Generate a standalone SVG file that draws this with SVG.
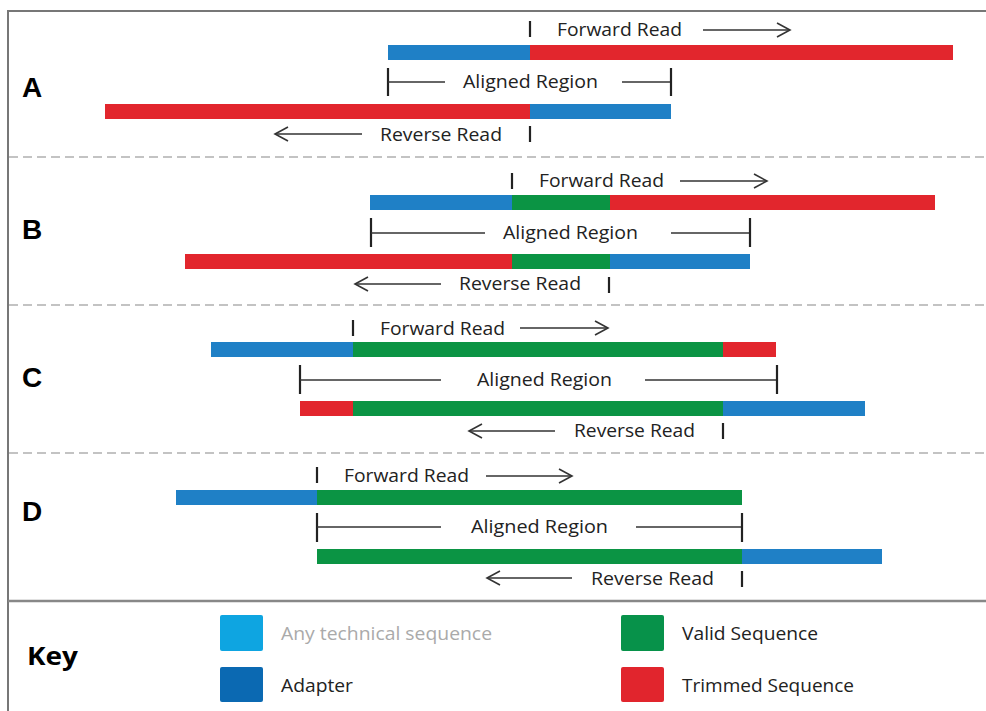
<svg xmlns="http://www.w3.org/2000/svg" width="986" height="711" viewBox="0 0 986 711">
<style>
.lbl{font-family:"Open Sans","DejaVu Sans",sans-serif;font-size:18px;fill:#222}
.let{font-family:"Liberation Sans",Arial,sans-serif;font-size:28px;font-weight:bold;fill:#000}
.key{font-family:"Open Sans","Liberation Sans",sans-serif;font-size:18px;fill:#222}
.ln{stroke:#333;stroke-width:1.6;fill:none}
.tk{stroke:#222;stroke-width:2.2;fill:none}
.dash{stroke:#b0b0b0;stroke-width:1.6;stroke-dasharray:9 5;fill:none}
.b{fill:#1f80c6}.r{fill:#e2262d}.g{fill:#0b9444}
</style>
<rect width="986" height="711" fill="#fff"/>
<g id="frame">
<path d="M986 11 H8 V711" stroke="#777" stroke-width="2" fill="none"/>
<line class="dash" x1="9" y1="157" x2="986" y2="157"/>
<line class="dash" x1="9" y1="305" x2="986" y2="305"/>
<line class="dash" x1="9" y1="453" x2="986" y2="453"/>
<line x1="8" y1="601" x2="986" y2="601" stroke="#888" stroke-width="2.5"/>
</g>

<g id="panelA">
<text class="let" x="22" y="97">A</text>
<line class="tk" x1="530" y1="21" x2="530" y2="37"/>
<text class="lbl" x="557" y="36" textLength="125" lengthAdjust="spacingAndGlyphs">Forward Read</text>
<line class="ln" x1="703" y1="30" x2="790" y2="30"/><polyline class="ln" points="777,23 790,30 777,37"/>
<rect class="b" x="388" y="45" width="142" height="15"/><rect class="r" x="530" y="45" width="423" height="15"/>
<line class="tk" x1="388" y1="68" x2="388" y2="96"/><line class="ln" x1="388" y1="82" x2="445" y2="82"/>
<text class="lbl" x="463" y="88" textLength="135" lengthAdjust="spacingAndGlyphs">Aligned Region</text>
<line class="ln" x1="622" y1="82" x2="671" y2="82"/><line class="tk" x1="671" y1="68" x2="671" y2="96"/>
<rect class="r" x="105" y="104" width="425" height="15"/><rect class="b" x="530" y="104" width="141" height="15"/>
<line class="ln" x1="275" y1="134" x2="362" y2="134"/><polyline class="ln" points="288,127 275,134 288,141"/>
<text class="lbl" x="380" y="141" textLength="122" lengthAdjust="spacingAndGlyphs">Reverse Read</text>
<line class="tk" x1="530" y1="126" x2="530" y2="142"/>
</g>

<g id="panelB">
<text class="let" x="22" y="239">B</text>
<line class="tk" x1="512" y1="173" x2="512" y2="189"/>
<text class="lbl" x="539" y="187" textLength="125" lengthAdjust="spacingAndGlyphs">Forward Read</text>
<line class="ln" x1="680" y1="181" x2="767" y2="181"/><polyline class="ln" points="754,174 767,181 754,188"/>
<rect class="b" x="370" y="195" width="142" height="15"/><rect class="g" x="512" y="195" width="98" height="15"/><rect class="r" x="610" y="195" width="325" height="15"/>
<line class="tk" x1="371" y1="218" x2="371" y2="247"/><line class="ln" x1="371" y1="233" x2="485" y2="233"/>
<text class="lbl" x="503" y="239" textLength="135" lengthAdjust="spacingAndGlyphs">Aligned Region</text>
<line class="ln" x1="671" y1="233" x2="750" y2="233"/><line class="tk" x1="750" y1="218" x2="750" y2="247"/>
<rect class="r" x="185" y="254" width="327" height="15"/><rect class="g" x="512" y="254" width="98" height="15"/><rect class="b" x="610" y="254" width="140" height="15"/>
<line class="ln" x1="355" y1="284" x2="441" y2="284"/><polyline class="ln" points="368,277 355,284 368,291"/>
<text class="lbl" x="459" y="290" textLength="122" lengthAdjust="spacingAndGlyphs">Reverse Read</text>
<line class="tk" x1="609" y1="277" x2="609" y2="293"/>
</g>

<g id="panelC">
<text class="let" x="22" y="387">C</text>
<line class="tk" x1="353" y1="320" x2="353" y2="336"/>
<text class="lbl" x="380" y="335" textLength="125" lengthAdjust="spacingAndGlyphs">Forward Read</text>
<line class="ln" x1="520" y1="328" x2="608" y2="328"/><polyline class="ln" points="595,321 608,328 595,335"/>
<rect class="b" x="211" y="342" width="142" height="15"/><rect class="g" x="353" y="342" width="370" height="15"/><rect class="r" x="723" y="342" width="53" height="15"/>
<line class="tk" x1="300" y1="365" x2="300" y2="394"/><line class="ln" x1="300" y1="380" x2="441" y2="380"/>
<text class="lbl" x="477" y="386" textLength="135" lengthAdjust="spacingAndGlyphs">Aligned Region</text>
<line class="ln" x1="645" y1="380" x2="777" y2="380"/><line class="tk" x1="777" y1="365" x2="777" y2="394"/>
<rect class="r" x="300" y="401" width="53" height="15"/><rect class="g" x="353" y="401" width="370" height="15"/><rect class="b" x="723" y="401" width="142" height="15"/>
<line class="ln" x1="469" y1="431" x2="555" y2="431"/><polyline class="ln" points="482,424 469,431 482,438"/>
<text class="lbl" x="574" y="437" textLength="121" lengthAdjust="spacingAndGlyphs">Reverse Read</text>
<line class="tk" x1="723" y1="423" x2="723" y2="439"/>
</g>

<g id="panelD">
<text class="let" x="22" y="521">D</text>
<line class="tk" x1="317" y1="467" x2="317" y2="483"/>
<text class="lbl" x="344" y="482" textLength="125" lengthAdjust="spacingAndGlyphs">Forward Read</text>
<line class="ln" x1="486" y1="476" x2="572" y2="476"/><polyline class="ln" points="559,469 572,476 559,483"/>
<rect class="b" x="176" y="490" width="141" height="15"/><rect class="g" x="317" y="490" width="425" height="15"/>
<line class="tk" x1="317" y1="513" x2="317" y2="542"/><line class="ln" x1="317" y1="527" x2="441" y2="527"/>
<text class="lbl" x="471" y="533" textLength="137" lengthAdjust="spacingAndGlyphs">Aligned Region</text>
<line class="ln" x1="636" y1="527" x2="742" y2="527"/><line class="tk" x1="742" y1="513" x2="742" y2="542"/>
<rect class="g" x="317" y="549" width="425" height="15"/><rect class="b" x="742" y="549" width="140" height="15"/>
<line class="ln" x1="487" y1="578" x2="572" y2="578"/><polyline class="ln" points="500,571 487,578 500,585"/>
<text class="lbl" x="591" y="585" textLength="123" lengthAdjust="spacingAndGlyphs">Reverse Read</text>
<line class="tk" x1="742" y1="571" x2="742" y2="587"/>
</g>

<g id="key">
<text x="27" y="665" style="font-family:'Open Sans','Liberation Sans',sans-serif;font-size:25px;font-weight:bold;fill:#000" textLength="51" lengthAdjust="spacingAndGlyphs">Key</text>
<rect x="220" y="615" width="43" height="36" rx="2" fill="#0ea5e1"/>
<text class="key" x="281" y="640" style="fill:#aaa" textLength="211" lengthAdjust="spacingAndGlyphs">Any technical sequence</text>
<rect x="220" y="667" width="43" height="35" rx="2" fill="#0b69b2"/>
<text class="key" x="281" y="692" textLength="72" lengthAdjust="spacingAndGlyphs">Adapter</text>
<rect x="621" y="615" width="43" height="36" rx="2" fill="#07924a"/>
<text class="key" x="682" y="640" textLength="136" lengthAdjust="spacingAndGlyphs">Valid Sequence</text>
<rect x="621" y="667" width="43" height="35" rx="2" fill="#e1252d"/>
<text class="key" x="682" y="692" textLength="172" lengthAdjust="spacingAndGlyphs">Trimmed Sequence</text>
</g>
</svg>
